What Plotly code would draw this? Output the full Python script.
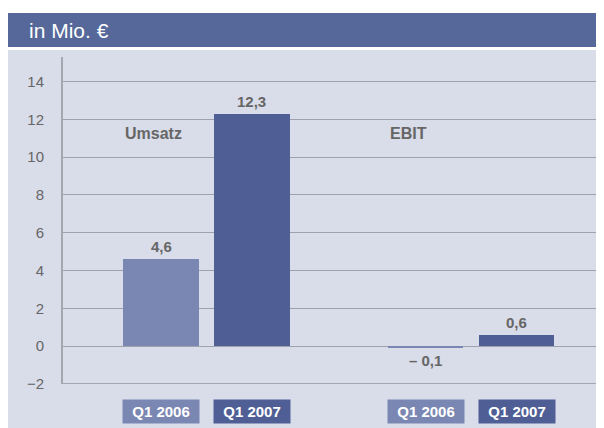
import plotly.graph_objects as go

# Data
groups = ["Umsatz", "EBIT"]
periods = ["Q1 2006", "Q1 2007"]
values_2006 = [4.6, -0.1]
values_2007 = [12.3, 0.6]
labels_2006 = ["4,6", "– 0,1"]
labels_2007 = ["12,3", "0,6"]
y_ticks = [-2, 0, 2, 4, 6, 8, 10, 12, 14]
header_text = "in Mio. €"

# Styles
c_light = "#7b87b3"
c_dark = "#4f5f95"
c_header = "#566899"
c_panel = "#d9dce9"
c_text = "#666666"
c_grid = "#9fa1ab"
font = "Liberation Sans, Arial, sans-serif"

offset = 0.172
bar_w = 0.287

fig = go.Figure()
series = [(values_2006, labels_2006, c_light, -offset, periods[0]),
          (values_2007, labels_2007, c_dark, offset, periods[1])]
for vals, labs, col, off, name in series:
    xs = [i + off for i in range(len(groups))]
    fig.add_trace(go.Bar(x=xs, y=vals, width=bar_w, marker=dict(color=col, line=dict(width=0)),
                         name=name, showlegend=False, hoverinfo="skip"))
    for x, v, t in zip(xs, vals, labs):
        fig.add_annotation(x=x, y=v, text=f"<b>{t}</b>", showarrow=False,
                           yanchor="bottom" if v >= 0 else "top",
                           yshift=2 if v >= 0 else -2,
                           font=dict(family=font, size=15, color=c_text))
        # period box below axis
        fig.add_annotation(x=x, xref="x", y=-2, yref="y", yanchor="top", yshift=-15,
                           text=f"<b>{name}</b>", showarrow=False, width=70, height=17,
                           bgcolor=col, borderpad=3,
                           font=dict(family=font, size=15, color="white"))

# group labels
for i, g in enumerate(groups):
    fig.add_annotation(x=i - offset - bar_w / 2, y=11.25, xanchor="left", yanchor="middle",
                       text=f"<b>{g}</b>", showarrow=False,
                       font=dict(family=font, size=16, color=c_text))

# panel and header
fig.add_shape(type="rect", xref="paper", yref="paper", layer="below",
              x0=-55 / 537, x1=1.01, y0=-44 / 327, y1=1 + 7 / 327,
              fillcolor=c_panel, line=dict(width=0))
fig.add_shape(type="rect", xref="paper", yref="paper", layer="below",
              x0=-55 / 537, x1=1.01, y0=1 + 10 / 327, y1=1 + 44 / 327,
              fillcolor=c_header, line=dict(width=0))
fig.add_annotation(xref="paper", yref="paper", x=-36 / 537, y=1 + 27 / 327,
                   xanchor="left", yanchor="middle", text=header_text, showarrow=False,
                   font=dict(family=font, size=21, color="white"))
# bottom axis line at -2
fig.add_shape(type="line", xref="paper", yref="y", x0=0, x1=1, y0=-2, y1=-2,
              line=dict(color="#a4a6b0", width=2))

fig.update_layout(
    width=596, height=420,
    margin=dict(l=55, r=4, t=49, b=44),
    paper_bgcolor="white", plot_bgcolor="rgba(0,0,0,0)",
    bargap=0,
    xaxis=dict(range=[-0.5425, 1.4877], showticklabels=False, showgrid=False,
               zeroline=False, showline=False, ticks=""),
    yaxis=dict(range=[-2, 15.3], tickvals=y_ticks, showgrid=True, gridcolor=c_grid,
               gridwidth=1, zeroline=False, showline=True, linecolor="#a4a6b0", linewidth=2,
               ticks="", tickfont=dict(family=font, size=15, color=c_text), ticklabelstandoff=14),
)

fig.write_html("out.html")
